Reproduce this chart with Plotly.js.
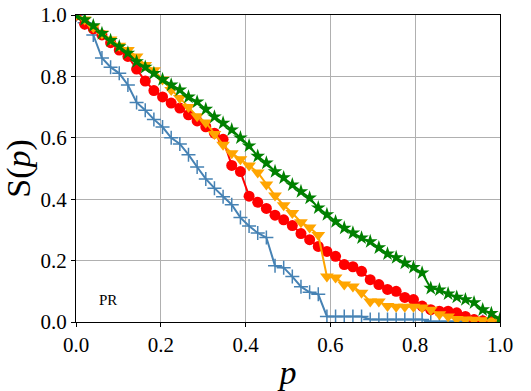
<!DOCTYPE html>
<html>
<head>
<meta charset="utf-8">
<script src="https://cdn.plot.ly/plotly-3.0.1.min.js"></script>
<style>
  html, body { margin: 0; padding: 0; background: #fff; }
  #plot { width: 531px; height: 391px; }
  #plot svg text { font-family: 'Liberation Serif', 'Times New Roman', serif !important; }
</style>
</head>
<body>
<div id="plot"></div>
<script>
// -- Data (50 samples of p) ----------------------------------------------------
const pVals = [
  0.000, 0.0204, 0.0408, 0.0612, 0.0816, 0.1020, 0.1224, 0.1429, 0.1633, 0.1837,
  0.2041, 0.2245, 0.2449, 0.2653, 0.2857, 0.3061, 0.3265, 0.3469, 0.3673, 0.3878,
  0.4082, 0.4286, 0.4490, 0.4694, 0.4898, 0.5102, 0.5306, 0.5510, 0.5714, 0.5918,
  0.6122, 0.6327, 0.6531, 0.6735, 0.6939, 0.7143, 0.7347, 0.7551, 0.7755, 0.7959,
  0.8163, 0.8367, 0.8571, 0.8776, 0.8980, 0.9184, 0.9388, 0.9592, 0.9796, 1.000
];

const blueS = [
  1.000, 0.975, 0.935, 0.860, 0.830, 0.810, 0.772, 0.715, 0.690, 0.660,
  0.635, 0.600, 0.580, 0.545, 0.505, 0.466, 0.436, 0.408, 0.382, 0.340,
  0.313, 0.290, 0.275, 0.183, 0.177, 0.148, 0.115, 0.097, 0.090, 0.018,
  0.018, 0.018, 0.018, 0.018, 0.008, 0.008, 0.008, 0.008, 0.008, 0.008,
  0.008, 0.002, 0.002, 0.002, 0.002, 0.002, 0.002, 0.002, 0.002, 0.002
];

const redS = [
  1.000, 0.970, 0.955, 0.935, 0.910, 0.886, 0.865, 0.824, 0.785, 0.754,
  0.733, 0.713, 0.697, 0.675, 0.655, 0.636, 0.615, 0.595, 0.510, 0.490,
  0.410, 0.390, 0.370, 0.348, 0.333, 0.314, 0.288, 0.268, 0.246, 0.230,
  0.214, 0.187, 0.180, 0.165, 0.138, 0.122, 0.106, 0.100, 0.080, 0.073,
  0.052, 0.040, 0.035, 0.035, 0.030, 0.018, 0.008, 0.004, 0.002, 0.000
];

const orangeS = [
  1.000, 0.985, 0.960, 0.940, 0.920, 0.900, 0.886, 0.865, 0.837, 0.820,
  0.790, 0.756, 0.730, 0.700, 0.670, 0.650, 0.612, 0.577, 0.550, 0.530,
  0.510, 0.487, 0.448, 0.412, 0.380, 0.355, 0.325, 0.308, 0.283, 0.148,
  0.145, 0.122, 0.116, 0.095, 0.067, 0.067, 0.052, 0.050, 0.050, 0.050,
  0.047, 0.040, 0.025, 0.018, 0.010, 0.008, 0.007, 0.006, 0.005, 0.004
];

const greenS = [
  1.000, 0.985, 0.965, 0.940, 0.917, 0.897, 0.876, 0.848, 0.830, 0.810,
  0.790, 0.772, 0.756, 0.733, 0.717, 0.693, 0.668, 0.648, 0.626, 0.600,
  0.574, 0.540, 0.518, 0.490, 0.470, 0.447, 0.425, 0.404, 0.372, 0.350,
  0.327, 0.306, 0.290, 0.274, 0.262, 0.242, 0.222, 0.210, 0.192, 0.178,
  0.160, 0.110, 0.105, 0.092, 0.081, 0.073, 0.063, 0.040, 0.028, 0.010
];

const tickVals = [0, 0.2, 0.4, 0.6, 0.8, 1.0];
const tickText = ['0.0', '0.2', '0.4', '0.6', '0.8', '1.0'];

// -- Traces --------------------------------------------------------------------
const serif = 'serif';

const traceBlue = {
  x: pVals, y: blueS, type: 'scatter', mode: 'lines+markers',
  line: { color: '#4682b4', width: 2 },
  marker: { symbol: 'cross-thin', size: 10, color: '#4682b4',
            line: { color: '#4682b4', width: 1.5 } },
};
const traceRed = {
  x: pVals, y: redS, type: 'scatter', mode: 'lines+markers',
  line: { color: '#ff0000', width: 2 },
  marker: { symbol: 'circle', size: 11, color: '#ff0000' },
};
const traceOrange = {
  x: pVals, y: orangeS, type: 'scatter', mode: 'lines+markers',
  line: { color: '#ffa500', width: 2 },
  marker: { symbol: 'triangle-down', size: 12, color: '#ffa500' },
};
const traceGreen = {
  x: pVals, y: greenS, type: 'scatter', mode: 'lines+markers',
  line: { color: '#008000', width: 2 },
  marker: { symbol: 'star', size: 11, color: '#008000' },
};

// -- Layout --------------------------------------------------------------------
function axisBase() {
  return {
    range: [0, 1],
    tickvals: tickVals,
    ticktext: tickText,
    ticks: 'outside',
    ticklen: 4,
    tickwidth: 1,
    tickcolor: '#000',
    showline: true,
    linecolor: '#000',
    linewidth: 1.2,
    mirror: true,
    showgrid: true,
    gridcolor: '#b0b0b0',
    gridwidth: 1,
    zeroline: false,
    tickfont: { family: serif, size: 21 },
  };
}

const xaxis = axisBase();
xaxis.title = { text: '<i>p</i>', font: { family: serif, size: 34 }, standoff: 4 };
const yaxis = axisBase();
yaxis.title = { text: 'S(<i>p</i>)', font: { family: serif, size: 34 }, standoff: 2 };

const layout = {
  width: 531,
  height: 391,
  paper_bgcolor: '#fff',
  plot_bgcolor: '#fff',
  font: { family: serif, color: '#000' },
  margin: { l: 76, r: 31, t: 15, b: 69 },
  showlegend: false,
  xaxis: xaxis,
  yaxis: yaxis,
  annotations: [{
    x: 0.076, y: 0.073, xref: 'x', yref: 'y',
    text: 'PR', showarrow: false,
    font: { family: serif, size: 15 },
  }],
};

Plotly.newPlot('plot', [traceBlue, traceRed, traceOrange, traceGreen], layout,
  { displayModeBar: false });
</script>
</body>
</html>
